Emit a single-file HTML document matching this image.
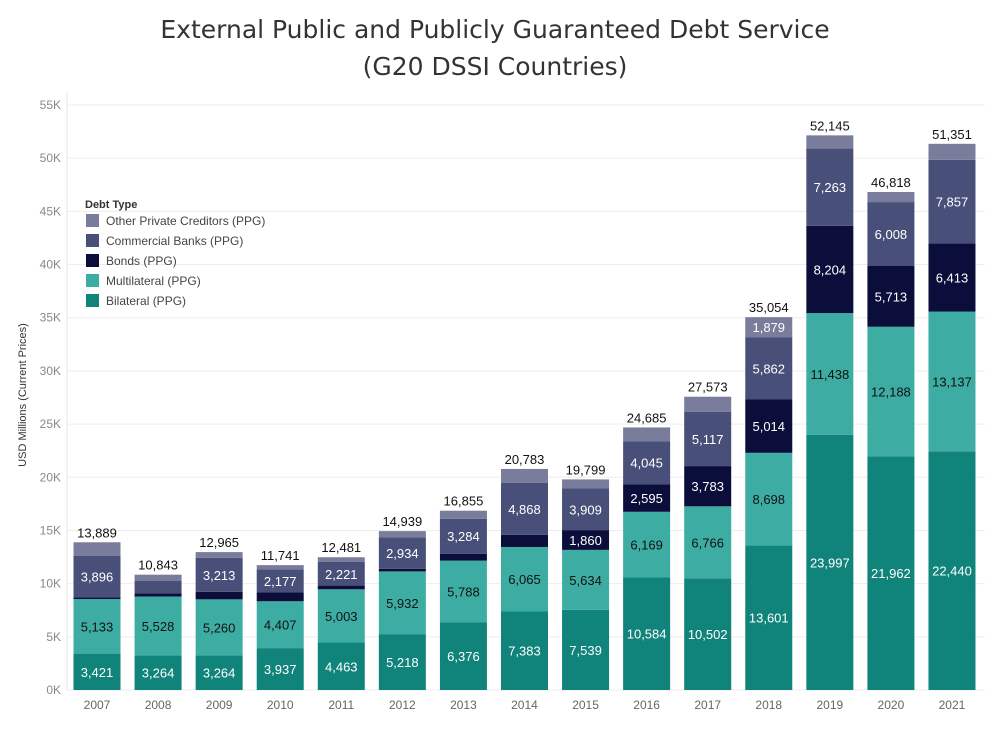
<!DOCTYPE html>
<html><head><meta charset="utf-8">
<style>
body{margin:0;background:#fff;font-family:"Liberation Sans",sans-serif;}
svg text{font-family:"Liberation Sans",sans-serif;}
svg text.title{font-family:"DejaVu Sans","Liberation Sans",sans-serif;}
</style></head>
<body>
<svg id="chart" width="994" height="724" viewBox="0 0 994 724" xmlns="http://www.w3.org/2000/svg">
<text class="title" x="495" y="38" text-anchor="middle" font-size="25" fill="#333">External Public and Publicly Guaranteed Debt Service</text>
<text class="title" x="495" y="75" text-anchor="middle" font-size="25" fill="#333">(G20 DSSI Countries)</text>
<text transform="translate(26,395) rotate(-90)" text-anchor="middle" font-size="11" fill="#333">USD Millions (Current Prices)</text>
<g id="grid"></g>
<g id="bars"></g>
<g id="xlabels"></g>
<g>
<text x="85" y="208" font-size="11" fill="#333" font-weight="bold">Debt Type</text>
<g id="legend"></g>
</g>
</svg>
<script>
const years = ["2007","2008","2009","2010","2011","2012","2013","2014","2015","2016","2017","2018","2019","2020","2021"];
const bilateral = [3421,3264,3264,3937,4463,5218,6376,7383,7539,10584,10502,13601,23997,21962,22440];
const multilateral = [5133,5528,5260,4407,5003,5932,5788,6065,5634,6169,6766,8698,11438,12188,13137];
const bonds = [150,290,700,820,350,250,650,1150,1860,2595,3783,5014,8204,5713,6413];
const commercial = [3896,1200,3213,2177,2221,2934,3284,4868,3909,4045,5117,5862,7263,6008,7857];
const other = [1289,561,528,400,444,605,757,1317,857,1292,1405,1879,1243,947,1504];
const totals = [13889,10843,12965,11741,12481,14939,16855,20783,19799,24685,27573,35054,52145,46818,51351];
const yTicks = [0,5000,10000,15000,20000,25000,30000,35000,40000,45000,50000,55000];
const yTickLabels = ["0K","5K","10K","15K","20K","25K","30K","35K","40K","45K","50K","55K"];

const NS="http://www.w3.org/2000/svg";
const y0=690, pxPer=(690-105)/55000;
function yS(v){return y0-v*pxPer;}
function xS(i){return 97+i*61.07;}
const bw=47;
function mk(tag,attrs,parent){const e=document.createElementNS(NS,tag);for(const k in attrs)e.setAttribute(k,attrs[k]);parent.appendChild(e);return e;}
const grid=document.getElementById('grid');
mk('line',{x1:67,x2:67,y1:92,y2:690,stroke:'#e6e6e6'},grid);
yTicks.forEach((t,i)=>{
  const l=mk('line',{x1:67,x2:985,y1:yS(t),y2:yS(t),stroke:'#ededed'},grid);
  
  
  const tx=mk('text',{x:61,y:yS(t)+4,'text-anchor':'end','font-size':12,fill:'#888'},grid);
  tx.textContent=yTickLabels[i];
  
  
});
const series=[
 {name:'bilateral',data:bilateral,color:'#10837a',text:'#fff'},
 {name:'multilateral',data:multilateral,color:'#3dada4',text:'#111'},
 {name:'bonds',data:bonds,color:'#0b0e3a',text:'#fff'},
 {name:'commercial',data:commercial,color:'#484f78',text:'#fff'},
 {name:'other',data:other,color:'#7a7c9c',text:'#fff'}];
const bars=document.getElementById('bars');
years.forEach((yr,i)=>{
  let cum=0;
  series.forEach(s=>{
    const v=s.data[i];
    const r=mk('rect',{x:xS(i)-bw/2,y:yS(cum+v),width:bw,height:v*pxPer,fill:s.color},bars);
    
    
    if(v>=1800){
      const t=mk('text',{x:xS(i),y:yS(cum+v/2)+5,'text-anchor':'middle','font-size':13,fill:s.text},bars);
      t.textContent=v.toLocaleString('en-US');
      
      
    }
    cum+=v;
  });
  const tt=mk('text',{x:xS(i),y:yS(totals[i])-5,'text-anchor':'middle','font-size':13,fill:'#111'},bars);
  tt.textContent=totals[i].toLocaleString('en-US');
  
  
  const xl=mk('text',{x:xS(i),y:709,'text-anchor':'middle','font-size':12,fill:'#666'},document.getElementById('xlabels'));
  xl.textContent=yr;
  
  
});
const legendItems=[['Other Private Creditors (PPG)','#7a7c9c'],['Commercial Banks (PPG)','#484f78'],['Bonds (PPG)','#0b0e3a'],['Multilateral (PPG)','#3dada4'],['Bilateral (PPG)','#10837a']];
const lg=document.getElementById('legend');
legendItems.forEach((it,i)=>{
  const r=mk('rect',{x:86,y:214+i*20,width:13,height:13,fill:it[1]},lg);
  
  
  const t=mk('text',{x:106,y:225+i*20,'font-size':12,fill:'#444'},lg);
  t.textContent=it[0];
  
  
});
</script>
</body></html>
